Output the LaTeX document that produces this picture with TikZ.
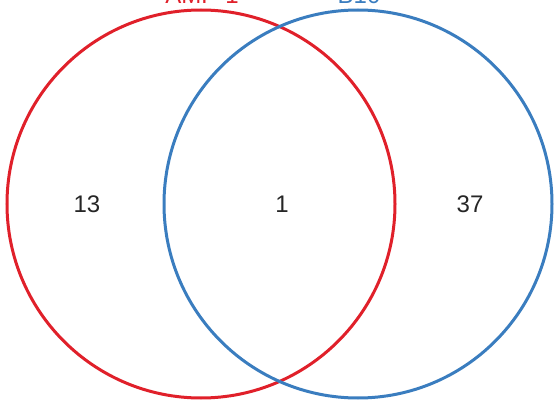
\documentclass[tikz,border=0pt]{standalone}
\usepackage{fontspec}
\setmainfont{Liberation Sans}
\definecolor{vred}{HTML}{E0202A}
\definecolor{vblue}{HTML}{3A7DBF}
\begin{document}
\begin{tikzpicture}[x=1pt,y=-1pt,
  setcircle/.style={line width=3pt},
  count/.style={font=\fontsize{24}{24}\selectfont, text=black!85, inner sep=0pt},
  setlabel/.style={font=\fontsize{24}{24}\selectfont, inner sep=0pt, anchor=base}]
\useasboundingbox (0,0) rectangle (557,401);
\draw[setcircle, vred] (201,204) circle[radius=194] coordinate (rc);
\draw[setcircle, vblue] (358,204) circle[radius=194] coordinate (bc);
\node[count] (n13) at (87,204) {13};
\node[count] (n1) at (282,204) {1};
\node[count] (n37) at (470,204) {37};
\node[setlabel, text=vred] (la) at (202,4) {AMP-1};
\node[setlabel, text=vblue] (lb) at (359,4) {B10};
\end{tikzpicture}
\end{document}
